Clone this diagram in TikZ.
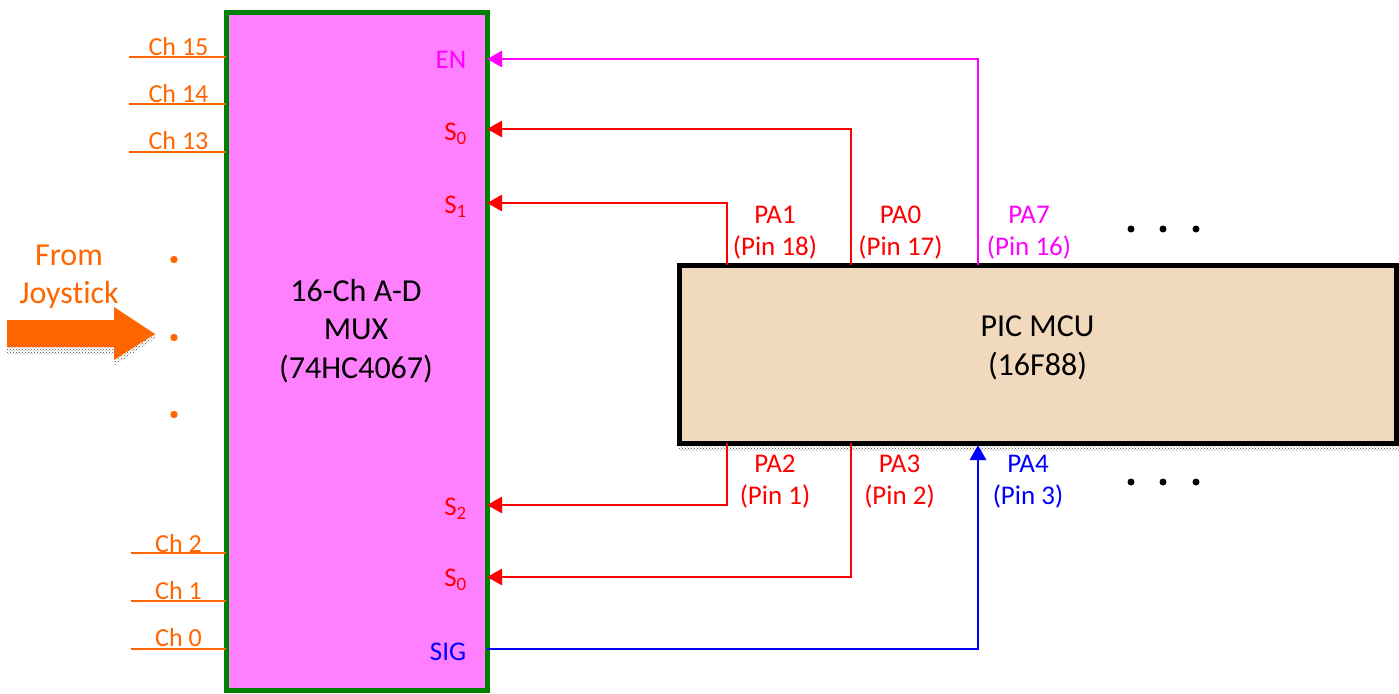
\documentclass[tikz,border=0pt]{standalone}
\usepackage{fontspec}
\usepackage{xcolor}
\setmainfont{Carlito}[Ligatures=CommonOff]
\usetikzlibrary{arrows.meta,positioning,calc,patterns}
\definecolor{muxfill}{HTML}{FF80FF}
\definecolor{muxedge}{HTML}{008000}
\definecolor{mcufill}{HTML}{F0D9BD}
\definecolor{joyorange}{HTML}{FF6600}
\definecolor{pinkline}{HTML}{FF00FF}
\definecolor{redline}{HTML}{FF0000}
\definecolor{blueline}{HTML}{0000FF}
\tikzset{
  sigred/.style={draw=redline,line width=2.7pt,-{Triangle[length=15pt,width=16pt]}},
  sigpink/.style={draw=pinkline,line width=2.7pt,-{Triangle[length=15pt,width=16pt]}},
  sigblue/.style={draw=blueline,line width=2.7pt,-{Triangle[length=15pt,width=16pt]}},
  chline/.style={draw=joyorange,line width=2.2pt},
  chlabel/.style={text=joyorange,font=\fontsize{26}{28}\selectfont,inner sep=0pt},
  pinlabel/.style={align=center,font=\fontsize{27}{32}\selectfont,inner sep=0pt},
  portlabel/.style={font=\fontsize{27}{28}\selectfont,inner sep=0pt},
  boxtext/.style={align=center,font=\fontsize{32}{38.5}\selectfont,inner sep=0pt},
  dropshade/.style={pattern=crosshatch dots,pattern color=black!70,draw=none}
}
\begin{document}
\begin{tikzpicture}[x=1pt,y=-1pt]
  \useasboundingbox (0,0) rectangle (1399,693);

  \fill[dropshade] (679,445) rectangle (1399,450);
  \node[draw=black,fill=mcufill,line width=5pt,outer sep=0pt,minimum width=717.5pt,minimum height=178pt] (mcu) at (1038,354) {};
  \node[boxtext] (mcutext) at (1037.5,348) {PIC MCU\\(16F88)};

  \node[draw=muxedge,fill=muxfill,line width=5pt,outer sep=0pt,minimum width=261.5pt,minimum height=677pt] (mux) at (357,351.5) {};
  \node[boxtext] (muxtext) at (356,331) {16-Ch A-D\\MUX\\(74HC4067)};

  \coordinate (en) at (487,59);
  \coordinate (szeroa) at (487,129);
  \coordinate (sone) at (487,203);
  \coordinate (stwo) at (487,505);
  \coordinate (szerob) at (487,577);
  \coordinate (sig) at (487,649);

  \node[portlabel,text=pinkline] (enlabel) at (451,59.5) {EN};
  \node[portlabel,text=redline] (szeroalabel) at (455.5,133.5) {S\textsubscript{0}};
  \node[portlabel,text=redline] (sonelabel) at (455.5,206.5) {S\textsubscript{1}};
  \node[portlabel,text=redline] (stwolabel) at (455.5,509) {S\textsubscript{2}};
  \node[portlabel,text=redline] (szeroblabel) at (455.5,580) {S\textsubscript{0}};
  \node[portlabel,text=blueline] (siglabel) at (448,652) {SIG};

  \coordinate (pa1) at (727,265);
  \coordinate (pa0) at (851,265);
  \coordinate (pa7) at (978,265);
  \coordinate (pa2) at (727,443);
  \coordinate (pa3) at (851,443);
  \coordinate (pa4) at (978,445);

  \draw[sigpink] (pa7) |- (en);
  \draw[sigred] (pa0) |- (szeroa);
  \draw[sigred] (pa1) |- (sone);
  \draw[sigred] (pa2) |- (stwo);
  \draw[sigred] (pa3) |- (szerob);
  \draw[sigblue] (sig) -| (pa4);

  \node[pinlabel,text=redline] (pinpa1) at (775,232.5) {PA1\\(Pin 18)};
  \node[pinlabel,text=redline] (pinpa0) at (900.5,232.5) {PA0\\(Pin 17)};
  \node[pinlabel,text=pinkline] (pinpa7) at (1029,232.5) {PA7\\(Pin 16)};
  \node[pinlabel,text=redline] (pinpa2) at (775,481.5) {PA2\\(Pin 1)};
  \node[pinlabel,text=redline] (pinpa3) at (899.5,481.5) {PA3\\(Pin 2)};
  \node[pinlabel,text=blueline] (pinpa4) at (1028,481.5) {PA4\\(Pin 3)};

  \fill (1131,229) circle (3.5);
  \fill (1163,229) circle (3.5);
  \fill (1196,229) circle (3.5);
  \fill (1131,482) circle (3.5);
  \fill (1163,482) circle (3.5);
  \fill (1196,482) circle (3.5);

  \coordinate (chf) at (129,57);
  \coordinate (che) at (129,104);
  \coordinate (chd) at (129,152);
  \coordinate (chc) at (131,553);
  \coordinate (chb) at (131,601);
  \coordinate (cha) at (131,649);
  \draw[chline] (chf) -- (chf -| mux.west);
  \draw[chline] (che) -- (che -| mux.west);
  \draw[chline] (chd) -- (chd -| mux.west);
  \draw[chline] (chc) -- (chc -| mux.west);
  \draw[chline] (chb) -- (chb -| mux.west);
  \draw[chline] (cha) -- (cha -| mux.west);
  \node[chlabel] (chflabel) at (178.5,47) {Ch 15};
  \node[chlabel] (chelabel) at (178.5,94) {Ch 14};
  \node[chlabel] (chdlabel) at (178.5,141) {Ch 13};
  \node[chlabel] (chclabel) at (178.5,544) {Ch 2};
  \node[chlabel] (chblabel) at (178.5,591) {Ch 1};
  \node[chlabel] (chalabel) at (178.5,637.5) {Ch 0};

  \fill[joyorange] (174,259.5) circle (3.7);
  \fill[joyorange] (174,337.5) circle (3.7);
  \fill[joyorange] (174,414.5) circle (3.7);

  \node[boxtext,text=joyorange] (joylabel) at (69,277) {From\\Joystick};
  \fill[dropshade] (114,360) -- (114,366) -- (155,338) -- (155,334) -- cycle;
  \fill[dropshade] (7,347) rectangle (114,353);
  \fill[joyorange] (7,320) -- (114,320) -- (114,307) -- (155,334) -- (114,360) -- (114,347) -- (7,347) -- cycle;
\end{tikzpicture}
\end{document}
